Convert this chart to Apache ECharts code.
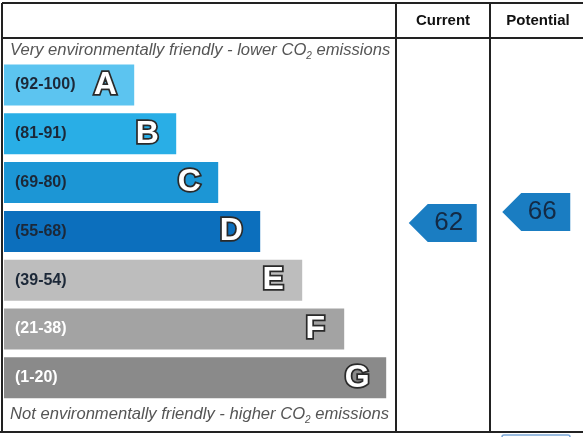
<!DOCTYPE html>
<html>
<head>
<meta charset="utf-8">
<script src="https://cdn.jsdelivr.net/npm/echarts@6/dist/echarts.min.js"></script>
<style>
  html, body { margin: 0; padding: 0; background: #fff; }
  #chart { width: 583px; height: 437px; }
</style>
</head>
<body>
<div id="chart"></div>
<script>
  // bands, top (best) to bottom (worst)
  const bands = ["A", "B", "C", "D", "E", "F", "G"];
  const ranges = ["(92-100)", "(81-91)", "(69-80)", "(55-68)", "(39-54)", "(21-38)", "(1-20)"];
  // relative bar lengths
  const barLengths = [31, 41, 51, 61, 71, 81, 91];
  const bandColors = ["#5cc4f0", "#29aee6", "#1c96d5", "#0c6fbd", "#bdbdbd", "#a3a3a3", "#8a8a8a"];

  const columns = ["Current", "Potential"];
  const scores = [62, 66];

  const FONT = "Liberation Sans, Arial, sans-serif";
  const LINE = "#222";

  const chart = echarts.init(document.getElementById("chart"), null, { renderer: "canvas" });

  const barData = barLengths.map((v, i) => ({
    value: v,
    itemStyle: { color: bandColors[i] },
    label: { color: i >= 5 ? "#ffffff" : "#1c2838" },
  }));

  // arrow pointer drawn at the score position of its column
  function renderArrow(params, api) {
    const p = api.coord([api.value(0), api.value(1)]);
    const x = p[0], y = p[1];
    return {
      type: "group",
      children: [
        {
          type: "polygon",
          shape: {
            points: [
              [x - 34, y],
              [x - 15, y - 19],
              [x + 34, y - 19],
              [x + 34, y + 19],
              [x - 15, y + 19],
            ],
          },
          style: { fill: "#1a7dc2" },
        },
        {
          type: "text",
          style: {
            text: String(api.value(1)),
            x: x + 6,
            y: y,
            align: "center",
            verticalAlign: "middle",
            fill: "#132a45",
            font: "26px " + FONT,
          },
        },
      ],
    };
  }

  const captionRich = {
    sub: { fontSize: 10, fontStyle: "italic", fontFamily: FONT, fill: "#555", verticalAlign: "bottom", lineHeight: 10, padding: [0, 0, -3, 0] },
  };

  const option = {
    animation: false,
    grid: [
      { left: 4, top: 60.6, width: 420, height: 341.6 },
      { left: 396, top: 118.5, width: 192, height: 275 },
    ],
    xAxis: [
      { type: "value", gridIndex: 0, min: 0, max: 100, show: false },
      { type: "category", gridIndex: 1, data: columns, show: false },
    ],
    yAxis: [
      { type: "category", gridIndex: 0, data: bands, inverse: true, show: false },
      { type: "value", gridIndex: 1, min: 0, max: 100, show: false },
    ],
    series: [
      {
        type: "bar",
        silent: true,
        barWidth: 41,
        data: barData,
        label: {
          show: true,
          position: "insideLeft",
          distance: 11,
          formatter: (p) => ranges[p.dataIndex],
          fontFamily: FONT,
          fontWeight: "bold",
          fontSize: 16,
        },
      },
      {
        type: "bar",
        silent: true,
        barWidth: 41,
        barGap: "-100%",
        data: barLengths,
        itemStyle: { color: "transparent" },
        label: {
          show: true,
          position: "insideRight",
          distance: 29,
          align: "center",
          formatter: (p) => bands[p.dataIndex],
          fontFamily: FONT,
          fontWeight: "bold",
          fontSize: 32,
          color: "#ffffff",
          textBorderColor: "#2a2a2a",
          textBorderWidth: 3.5,
        },
      },
      {
        type: "custom",
        xAxisIndex: 1,
        yAxisIndex: 1,
        silent: true,
        renderItem: renderArrow,
        data: columns.map((c, i) => [i, scores[i]]),
      },
    ],
    graphic: [
      // table frame
      { type: "line", shape: { x1: 2, y1: 3, x2: 583, y2: 3 }, style: { stroke: LINE, lineWidth: 2 } },
      { type: "line", shape: { x1: 2, y1: 3, x2: 2, y2: 432 }, style: { stroke: LINE, lineWidth: 2 } },
      { type: "line", shape: { x1: 2, y1: 38, x2: 583, y2: 38 }, style: { stroke: LINE, lineWidth: 2 } },
      { type: "line", shape: { x1: 396, y1: 3, x2: 396, y2: 432 }, style: { stroke: LINE, lineWidth: 2 } },
      { type: "line", shape: { x1: 490, y1: 3, x2: 490, y2: 432 }, style: { stroke: LINE, lineWidth: 2 } },
      { type: "line", shape: { x1: 0, y1: 432, x2: 583, y2: 432 }, style: { stroke: LINE, lineWidth: 2 } },
      { type: "rect", shape: { x: 502, y: 435, width: 68, height: 12, r: 2 }, style: { fill: "none", stroke: "#7aa6d6", lineWidth: 1.5 } },
      // column headers
      {
        type: "text", x: 443, y: 21,
        style: { text: columns[0], align: "center", verticalAlign: "middle", fill: "#111", font: "bold 15px " + FONT },
      },
      {
        type: "text", x: 538, y: 21,
        style: { text: columns[1], align: "center", verticalAlign: "middle", fill: "#111", font: "bold 15px " + FONT },
      },
      // captions
      {
        type: "text", x: 10, y: 50,
        style: {
          text: "Very environmentally friendly - lower CO{sub|2} emissions",
          verticalAlign: "middle", fill: "#555", font: "italic 16.6px " + FONT, rich: captionRich,
        },
      },
      {
        type: "text", x: 10, y: 414,
        style: {
          text: "Not environmentally friendly - higher CO{sub|2} emissions",
          verticalAlign: "middle", fill: "#555", font: "italic 16.6px " + FONT, rich: captionRich,
        },
      },
    ],
  };

  chart.setOption(option);
</script>
</body>
</html>
